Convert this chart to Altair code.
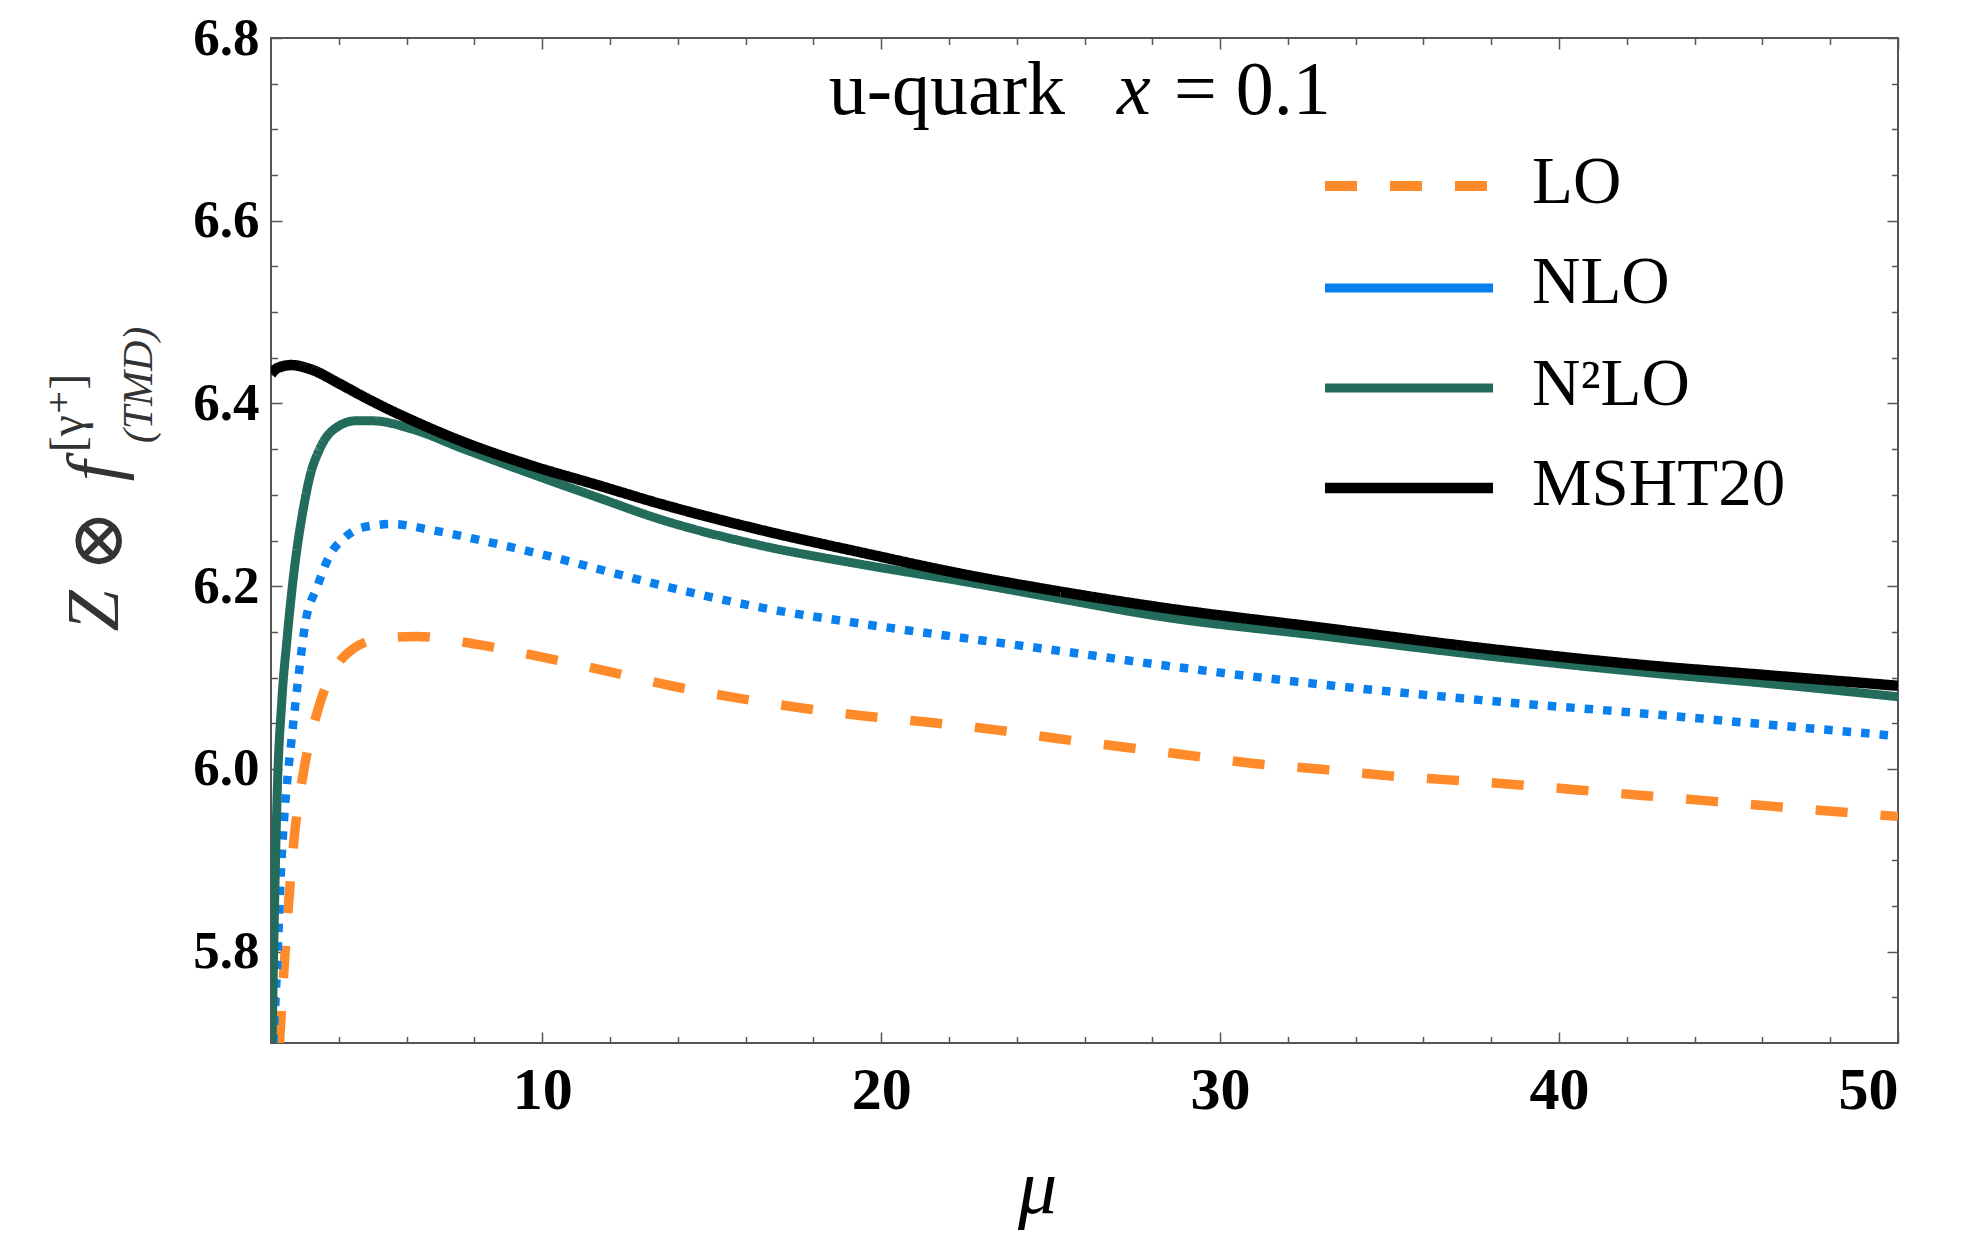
import altair as alt
import pandas as pd

# ---------------- data ----------------
mu_lo = [2.25, 2.40, 2.70, 2.99, 3.41, 4.44, 5.3, 6.26, 8.13, 10.04, 11.91, 13.8, 15.69, 17.6, 19.5,
         21.42, 23.33, 25.25, 27.14, 29.06, 30.98, 32.9, 34.81, 36.73, 38.65, 40.56, 42.45,
         44.4, 46.32, 48.23, 50.0]
val_lo = [5.70, 5.79, 5.93, 6.003, 6.068, 6.132, 6.143, 6.145, 6.136, 6.122, 6.107, 6.091, 6.078,
          6.067, 6.058, 6.051, 6.043, 6.033, 6.024, 6.015, 6.006, 6.000, 5.993, 5.988, 5.983,
          5.977, 5.971, 5.965, 5.959, 5.953, 5.948]

mu_nlo = [2.07, 2.18, 2.30, 2.45, 2.60, 2.82, 3.01, 3.36, 3.75, 4.14, 4.68, 5.57, 6.65, 8.22,
          10.29, 12.35, 13.5, 16.4, 19.4, 22.3, 25.3, 28.2, 32.85, 37.8, 42.7, 46.0, 50.0]
val_nlo = [5.70, 5.784, 5.893, 5.975, 6.030, 6.104, 6.159, 6.199, 6.235, 6.252, 6.264, 6.268,
           6.262, 6.250, 6.232, 6.212, 6.201, 6.177, 6.159, 6.144, 6.129, 6.114, 6.093, 6.075,
           6.060, 6.049, 6.036]

mu_n2lo = [2.03, 2.11, 2.18, 2.32, 2.47, 2.67, 2.96, 3.16, 3.41, 3.80, 4.5, 5.0, 6.16, 7.63,
           9.6, 11.57, 13.5, 16.4, 19.4, 22.3, 25.3, 28.2, 32.9, 37.8, 42.7, 46.0, 50.0]
val_n2lo = [5.70, 5.86, 5.97, 6.075, 6.141, 6.213, 6.286, 6.322, 6.348, 6.370, 6.381, 6.381,
            6.372, 6.351, 6.324, 6.298, 6.273, 6.245, 6.224, 6.206, 6.186, 6.167, 6.146,
            6.124, 6.105, 6.094, 6.079]

mu_msht = [2.0, 2.2, 2.6, 3.2, 4.0, 4.7, 5.5, 6.2, 7.6, 9.6, 11.6, 13.5, 16.4, 19.4, 22.3,
           25.3, 28.2, 32.9, 37.8, 42.7, 46.0, 50.0]
val_msht = [6.432, 6.439, 6.442, 6.437, 6.422, 6.408, 6.393, 6.381, 6.359, 6.333, 6.311, 6.290,
            6.262, 6.237, 6.214, 6.194, 6.177, 6.155, 6.132, 6.113, 6.103, 6.091]

series_names = ["LO", "NLO", "N²LO", "MSHT20"]
series_mu = [mu_lo, mu_nlo, mu_n2lo, mu_msht]
series_val = [val_lo, val_nlo, val_n2lo, val_msht]

x_major = [10, 20, 30, 40, 50]
x_minor = [4, 6, 8, 12, 14, 16, 18, 22, 24, 26, 28, 32, 34, 36, 38, 42, 44, 46, 48]
y_major = [5.8, 6.0, 6.2, 6.4, 6.6, 6.8]
y_minor = [5.75, 5.85, 5.9, 5.95, 6.05, 6.1, 6.15, 6.25, 6.3, 6.35, 6.45, 6.5, 6.55,
           6.65, 6.7, 6.75]

# ---------------- styling ----------------
colors = ["#FF8A2A", "#0A80EE", "#236B5B", "#000000"]
dashes = [[32, 33], [8.5, 10], [1, 0], [1, 0]]
widths = [9.5, 8.5, 9, 10.5]
legend_dashes = [[32, 33], [1, 0], [1, 0], [1, 0]]
legend_widths = [10, 9, 9, 10.5]

W, H = 1627, 1005
FONT = "Liberation Serif, DejaVu Serif, serif"
FRAME = "#555555"
MAJ, MIN = 11, 6.5

x_scale = alt.Scale(domain=[2, 50], nice=False, zero=False)
y_scale = alt.Scale(domain=[5.7, 6.8], nice=False, zero=False)


def mk_axis(orient, values, size, labels, **kw):
    return alt.Axis(orient=orient, values=values, tickSize=size, offset=-size, domain=False,
                    grid=False, labels=labels, ticks=True, tickColor=FRAME, tickWidth=1.5,
                    title=None, **kw)


x_main = alt.Axis(orient="bottom", values=x_major, tickSize=MAJ, offset=-MAJ, domain=False,
                  grid=False, tickColor=FRAME, tickWidth=1.5, labelFont=FONT, labelFontSize=60,
                  labelFontWeight="bold", labelColor="black", labelPadding=18, format="d",
                  title="μ", titleFont=FONT, titleFontSize=78, titleFontStyle="italic",
                  titleFontWeight="normal", titleColor="black", titleX=766, titleY=180,
                  titleBaseline="alphabetic", titleAlign="center")
y_main = alt.Axis(orient="left", values=y_major, tickSize=MAJ, offset=-MAJ, domain=False,
                  grid=False, tickColor=FRAME, tickWidth=1.5, labelFont=FONT, labelFontSize=53,
                  labelFontWeight="bold", labelColor="black", labelPadding=12, format=".1f",
                  title=None)

axes = [
    (x_main, y_main),
    (mk_axis("top", x_major, MAJ, False), mk_axis("right", y_major, MAJ, False)),
    (mk_axis("bottom", x_minor, MIN, False), mk_axis("left", y_minor, MIN, False)),
    (mk_axis("top", x_minor, MIN, False), mk_axis("right", y_minor, MIN, False)),
]

layers = []
for i in range(4):
    df = pd.DataFrame({"mu": series_mu[i], "v": series_val[i]})
    ax_x, ax_y = axes[i]
    layers.append(
        alt.Chart(df).mark_line(color=colors[i], strokeWidth=widths[i], strokeDash=dashes[i],
                                strokeCap="butt", interpolate="monotone", clip=True)
        .encode(x=alt.X("mu:Q", scale=x_scale, axis=ax_x),
                y=alt.Y("v:Q", scale=y_scale, axis=ax_y))
    )

# ---------------- legend (drawn by hand, like the reference) ----------------
leg_line_y = [148, 250, 350, 450]
leg_text_y = [165, 265, 367, 467]
for i in range(4):
    ldf = pd.DataFrame({"name": [series_names[i]]})
    layers.append(
        alt.Chart(ldf).mark_rule(color=colors[i], strokeWidth=legend_widths[i],
                                 strokeDash=legend_dashes[i], strokeCap="butt")
        .encode(x=alt.value(1054), x2=alt.value(1222), y=alt.value(leg_line_y[i]))
    )
    layers.append(
        alt.Chart(ldf).mark_text(font=FONT, fontSize=67, align="left", baseline="alphabetic",
                                 color="black")
        .encode(x=alt.value(1261), y=alt.value(leg_text_y[i]), text="name:N")
    )

# ---------------- in-plot title ----------------
title_parts = [("u-quark", "normal", "right", 794), ("x", "italic", "left", 846),
               ("= 0.1", "normal", "left", 903)]
for txt, style, al, xp in title_parts:
    tdf = pd.DataFrame({"t": [txt]})
    layers.append(
        alt.Chart(tdf).mark_text(font=FONT, fontSize=76, fontStyle=style, align=al,
                                 baseline="alphabetic", color="black")
        .encode(x=alt.value(xp), y=alt.value(76), text="t:N")
    )

# ---------------- y-axis label  Z ⊗ f^{[γ+]}_{(TMD)} ----------------
ylab_parts = [
    ("Z", "italic", 74, -153, 573, "alphabetic"),
    ("⊗", "normal", 74, -171, 503, "middle"),
    ("f", "italic", 74, -153, 433, "alphabetic"),
    ("[γ⁺]", "normal", 48, -188, 375, "alphabetic"),
    ("(TMD)", "italic", 42, -119, 347, "alphabetic"),
]
for txt, style, fs, xp, yp, bl in ylab_parts:
    ydf = pd.DataFrame({"t": [txt]})
    layers.append(
        alt.Chart(ydf).mark_text(font=FONT, fontSize=fs, fontStyle=style, align="center",
                                 baseline=bl, angle=270, color="#333333")
        .encode(x=alt.value(xp), y=alt.value(yp), text="t:N")
    )

chart = (
    alt.layer(*layers)
    .resolve_axis(x="independent", y="independent")
    .properties(width=W, height=H, autosize=alt.AutoSizeParams(type="none"),
                padding={"left": 263, "top": 30, "right": 80, "bottom": 190})
    .configure_view(stroke=FRAME, strokeWidth=2)
)

chart.save("out.html", embed_options={"renderer": "svg", "actions": False})
